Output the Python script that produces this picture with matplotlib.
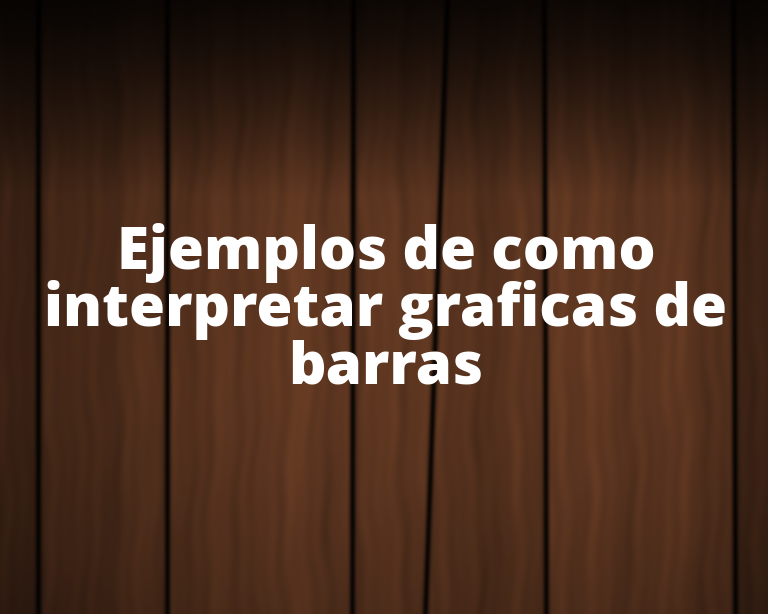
import numpy as np
import matplotlib
matplotlib.use("Agg")
import matplotlib.pyplot as plt

# Title text lines (the only "content" of the picture)
title_lines = ["Ejemplos de como", "interpretar graficas de", "barras"]

# Plank gap positions (x at top, x at bottom), in pixels
gap_top = [38, 167, 353, 447, 544, 733]
gap_bottom = [38, 167, 352, 425, 546, 735]
# relative brightness of each plank (left to right)
plank_level = [0.85, 0.95, 1.0, 0.95, 0.9, 1.05, 0.8]

W, H = 768, 614
fig = plt.figure(figsize=(W / 100, H / 100), dpi=100)
ax = fig.add_axes([0, 0, 1, 1])
ax.set_axis_off()

# --- deterministic wood texture ---
yy, xx = np.mgrid[0:H, 0:W].astype(float)
warp = 3.0 * np.sin(yy / 47.0 + xx / 90.0) + 1.8 * np.sin(yy / 17.0 + xx / 23.0)
xw = xx + warp
grain = (0.30 * np.sin(xw / 2.4) + 0.30 * np.sin(xw / 3.9 + 1.3)
         + 0.30 * np.sin(xw / 6.7 + 0.4) + 0.40 * np.sin(xw / 12.0 + 2.1)
         + 0.30 * np.sin(xw / 21.0 + 0.9))
grain = grain / 1.6
base = 1.0 + 0.20 * grain * (0.75 + 0.25 * np.sin(yy / 29.0 + xx / 7.0))

t = yy / (H - 1)
gx_all = [a + (b - a) * t for a, b in zip(gap_top, gap_bottom)]
plank_idx = np.zeros_like(xx, dtype=int)
for gx in gx_all:
    plank_idx += (xx > gx).astype(int)
base *= np.array(plank_level)[plank_idx]

# plank gaps
for gx in gx_all:
    d = np.abs(xx - gx)
    base *= 1 - 0.85 * np.exp(-(d / 3.2) ** 2)

# vignette: dark top, edges and bottom, brighter center
cx, cy = 420, 320
r = np.sqrt(((xx - cx) / 560) ** 2 + ((yy - cy) / 520) ** 2)
vig = np.clip(1.0 - 0.6 * r ** 1.8, 0.3, 1.0)
topfade = np.clip((yy + 5) / 200.0, 0.0, 1.0) ** 1.2
light = base * vig * (0.18 + 0.82 * topfade)

col = np.array([100, 58, 35]) / 255.0
img = np.clip(light[..., None] * col[None, None, :], 0, 1)

ax.imshow(img, extent=[0, W, H, 0], aspect="auto", interpolation="bilinear")
ax.set_xlim(0, W)
ax.set_ylim(H, 0)

ax.text(W / 2 + 2, 383, "\n".join(title_lines), ha="center", va="baseline",
        multialignment="center", linespacing=0.95, color="white",
        fontsize=42, fontweight="heavy", family=["Open Sans", "DejaVu Sans"])

fig.savefig("out.png", dpi=100)
